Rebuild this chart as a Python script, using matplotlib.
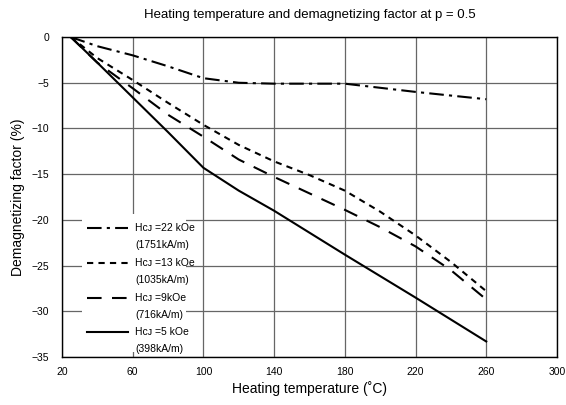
import matplotlib.pyplot as plt
from matplotlib.lines import Line2D
from matplotlib.patches import Rectangle

plt.rcParams['font.family'] = ['Liberation Sans', 'DejaVu Sans']

# == DATOS ==
temp_22 = [25, 40, 60, 80, 100, 120, 140, 160, 180, 220, 260]
fac_22 = [0, -1.0, -2.0, -3.2, -4.5, -5.0, -5.1, -5.1, -5.1, -6.0, -6.8]

temp_13 = [25, 40, 60, 80, 100, 120, 140, 160, 180, 200, 220, 240, 260]
fac_13 = [0, -2.3, -4.7, -7.2, -9.6, -11.8, -13.6, -15.1, -16.8, -19.1, -21.7, -24.6, -27.8]

temp_9 = [25, 40, 60, 80, 100, 120, 140, 160, 180, 200, 220, 240, 260]
fac_9 = [0, -2.8, -5.6, -8.5, -10.9, -13.4, -15.3, -17.1, -18.9, -20.8, -22.9, -25.5, -28.7]

temp_5 = [25, 40, 60, 80, 100, 120, 140, 180, 220, 260]
fac_5 = [0, -2.8, -6.6, -10.4, -14.3, -16.8, -19.0, -23.8, -28.5, -33.3]

labels = ["H\u1d04\u1d0a =22 kOe", "H\u1d04\u1d0a =13 kOe", "H\u1d04\u1d0a =9kOe", "H\u1d04\u1d0a =5 kOe"]
sublabels = ["(1751kA/m)", "(1035kA/m)", "(716kA/m)", "(398kA/m)"]

x_ticks = [20, 60, 100, 140, 180, 220, 260, 300]
y_ticks = [0, -5, -10, -15, -20, -25, -30, -35]

# estilos de linea
styles = [(0, (7, 2.5, 1.5, 2.5)), (0, (3, 2.5)), (0, (7, 5)), "-"]

fig = plt.figure(figsize=(5.66, 4.05), dpi=100)
ax = fig.add_axes([0.1095, 0.1185, 0.8745, 0.79])

series = [(temp_22, fac_22), (temp_13, fac_13), (temp_9, fac_9), (temp_5, fac_5)]
for (t, f), ls in zip(series, styles):
    ax.plot(t, f, color="black", lw=1.5, linestyle=ls, zorder=3)

ax.set_xlim(20, 300)
ax.set_ylim(-35, 0)
ax.set_xticks(x_ticks)
ax.set_yticks(y_ticks)
ax.tick_params(length=0, labelsize=7.5, pad=7)
ax.tick_params(axis="y", pad=9)
ax.grid(True, color="#666666", lw=0.9, zorder=1)
for sp in ax.spines.values():
    sp.set_linewidth(1.0)
    sp.set_zorder(4)

ax.set_title("Heating temperature and demagnetizing factor at p = 0.5", fontsize=9.5, pad=14)
ax.set_xlabel("Heating temperature (\u02daC)", fontsize=10, labelpad=3)
ax.set_ylabel("Demagnetizing factor (%)", fontsize=10, labelpad=5)

# == LEYENDA ==
ax.add_patch(Rectangle((0.04, 0.016), 0.21, 0.43, transform=ax.transAxes,
                       facecolor="white", edgecolor="none", zorder=2))
y_pos = [0.403, 0.295, 0.185, 0.078]
for yp, ls, lab, sub in zip(y_pos, styles, labels, sublabels):
    ax.add_line(Line2D([0.0505, 0.133], [yp, yp], transform=ax.transAxes,
                       color="black", lw=1.5, linestyle=ls, zorder=3))
    ax.text(0.1475, yp, lab, transform=ax.transAxes, fontsize=7.5, va="center", zorder=3)
    ax.text(0.1475, yp - 0.053, sub, transform=ax.transAxes, fontsize=7.5, va="center", zorder=3)

fig.savefig("out.png", dpi=100)
